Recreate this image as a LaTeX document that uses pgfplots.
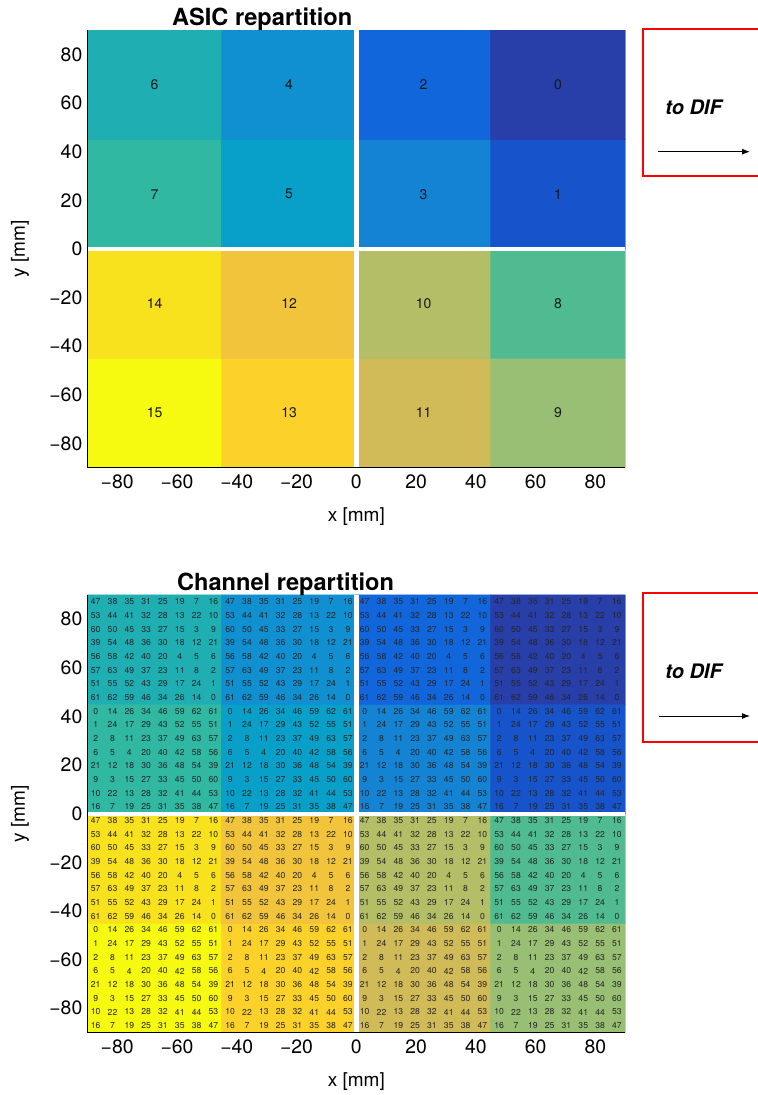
\documentclass[border=0pt]{standalone}
\usepackage{pgfplots}
\pgfplotsset{compat=1.18}
\usepackage{pgfplotstable}
\usepackage{fontspec}
\setmainfont{TeX Gyre Heros}
\usetikzlibrary{arrows.meta}

% channel layout of one ASIC (c = column from left, r = row from top)
\pgfplotstableread{
c r ch
0 0 47
1 0 38
2 0 35
3 0 31
4 0 25
5 0 19
6 0 7
7 0 16
0 1 53
1 1 44
2 1 41
3 1 32
4 1 28
5 1 13
6 1 22
7 1 10
0 2 60
1 2 50
2 2 45
3 2 33
4 2 27
5 2 15
6 2 3
7 2 9
0 3 39
1 3 54
2 3 48
3 3 36
4 3 30
5 3 18
6 3 12
7 3 21
0 4 56
1 4 58
2 4 42
3 4 40
4 4 20
5 4 4
6 4 5
7 4 6
0 5 57
1 5 63
2 5 49
3 5 37
4 5 23
5 5 11
6 5 8
7 5 2
0 6 51
1 6 55
2 6 52
3 6 43
4 6 29
5 6 17
6 6 24
7 6 1
0 7 61
1 7 62
2 7 59
3 7 46
4 7 34
5 7 26
6 7 14
7 7 0
}\chmap

\pgfplotsset{
  asicax/.style={
    scale only axis, width=269pt, height=218.8pt,
    xmin=-90, xmax=90, ymin=-90, ymax=90,
    axis x line*=bottom, axis y line*=left, axis on top,
    axis line style={line width=0.5pt, black},
    major tick length=0pt,
    xtick={-80,-60,-40,-20,0,20,40,60,80},
    ytick={-80,-60,-40,-20,0,20,40,60,80},
    xticklabels={−80,−60,−40,−20,0,20,40,60,80},
    yticklabels={−80,−60,−40,−20,0,20,40,60,80},
    tick label style={font=\fontsize{9.7}{11}\selectfont},
    xticklabel style={inner sep=0pt, yshift=-3.3pt},
    yticklabel style={inner sep=0pt, xshift=-2.3pt},
    xlabel={x [mm]}, ylabel={y [mm]},
    label style={font=\fontsize{9.5}{11}\selectfont},
    xlabel style={at={(axis description cs:0.5,0)}, anchor=center, yshift=-24.5pt},
    ylabel style={at={(axis description cs:-0.1251,0.5)}, anchor=center},
    colormap={asic}{rgb255=(40,62,168) rgb255=(23,83,203) rgb255=(17,102,219) rgb255=(20,131,212)
      rgb255=(16,144,208) rgb255=(8,160,200) rgb255=(31,175,179) rgb255=(48,184,162)
      rgb255=(80,187,144) rgb255=(152,191,115) rgb255=(179,190,102) rgb255=(209,186,88)
      rgb255=(242,196,60) rgb255=(252,210,42) rgb255=(248,226,30) rgb255=(246,249,16)},
  },
  asicfill/.style={matrix plot*, mesh/cols=4, point meta=explicit, point meta min=0, point meta max=15, forget plot},
  chlab/.style={draw=none, mark=none, forget plot, nodes near coords, point meta=explicit symbolic,
    nodes near coords align=center,
    nodes near coords style={font=\fontsize{4.3}{5}\selectfont, text=black!85, inner sep=0pt}},
}

\begin{document}
\begin{tikzpicture}
\useasboundingbox (0pt,0pt) rectangle (378.5pt,-547.5pt);

% ---------------- ASIC repartition ----------------
\begin{axis}[asicax, at={(43.65pt,-233.85pt)}, anchor=south west]
\addplot[asicfill] coordinates {
(-67.5,-67.5) [15] (-22.5,-67.5) [13] (22.5,-67.5) [11] (67.5,-67.5) [9]
(-67.5,-22.5) [14] (-22.5,-22.5) [12] (22.5,-22.5) [10] (67.5,-22.5) [8]
(-67.5,22.5) [7] (-22.5,22.5) [5] (22.5,22.5) [3] (67.5,22.5) [1]
(-67.5,67.5) [6] (-22.5,67.5) [4] (22.5,67.5) [2] (67.5,67.5) [0]
};
\addplot[white, line width=2.5pt, forget plot] coordinates {(0,-90) (0,90)};
\addplot[white, line width=2pt, forget plot] coordinates {(-90,0) (90,0)};
\addplot[draw=none, mark=none, forget plot, nodes near coords, point meta=explicit symbolic,
  nodes near coords align=center,
  nodes near coords style={font=\fontsize{7}{8}\selectfont, text=black!90}] coordinates {
(-67.5,-67.5) [15] (-22.5,-67.5) [13] (22.5,-67.5) [11] (67.5,-67.5) [9]
(-67.5,-22.5) [14] (-22.5,-22.5) [12] (22.5,-22.5) [10] (67.5,-22.5) [8]
(-67.5,22.5) [7] (-22.5,22.5) [5] (22.5,22.5) [3] (67.5,22.5) [1]
(-67.5,67.5) [6] (-22.5,67.5) [4] (22.5,67.5) [2] (67.5,67.5) [0]
};
\end{axis}

% ---------------- Channel repartition ----------------
\begin{axis}[asicax, at={(43.65pt,-516.25pt)}, anchor=south west]
\addplot[asicfill] coordinates {
(-67.5,-67.5) [15] (-22.5,-67.5) [13] (22.5,-67.5) [11] (67.5,-67.5) [9]
(-67.5,-22.5) [14] (-22.5,-22.5) [12] (22.5,-22.5) [10] (67.5,-22.5) [8]
(-67.5,22.5) [7] (-22.5,22.5) [5] (22.5,22.5) [3] (67.5,22.5) [1]
(-67.5,67.5) [6] (-22.5,67.5) [4] (22.5,67.5) [2] (67.5,67.5) [0]
};
\addplot[white, line width=2.2pt, forget plot] coordinates {(0,-90) (0,90)};
\addplot[white, line width=1.8pt, forget plot] coordinates {(-90,0) (90,0)};
\pgfplotsinvokeforeach{0,1,2,3}{
  \addplot[chlab] table[x expr={-87.1875+45*#1+5.625*\thisrow{c}}, y expr={87.1875-5.625*\thisrow{r}}, meta=ch]{\chmap};
  \addplot[chlab] table[x expr={-87.1875+45*#1+5.625*(7-\thisrow{c})}, y expr={42.1875-5.625*(7-\thisrow{r})}, meta=ch]{\chmap};
  \addplot[chlab] table[x expr={-87.1875+45*#1+5.625*\thisrow{c}}, y expr={-2.8125-5.625*\thisrow{r}}, meta=ch]{\chmap};
  \addplot[chlab] table[x expr={-87.1875+45*#1+5.625*(7-\thisrow{c})}, y expr={-47.8125-5.625*(7-\thisrow{r})}, meta=ch]{\chmap};
}
\end{axis}

% titles
\node[anchor=base west, inner sep=0pt, font=\bfseries\fontsize{11.8}{14}\selectfont] at (85.85pt,-13pt) {ASIC repartition};
\node[anchor=base west, inner sep=0pt, font=\bfseries\fontsize{11.8}{14}\selectfont] at (88.35pt,-295pt) {Channel repartition};

% "to DIF" annotation boxes
\draw[red, line width=1pt] (321.35pt,-14.5pt) rectangle (392pt,-87.85pt);
\node[anchor=base west, inner sep=0pt, font=\bfseries\itshape\fontsize{10}{12}\selectfont] at (332.5pt,-57.15pt) {to DIF};
\draw[-{Latex[length=4pt,width=3pt]}, line width=0.5pt] (329pt,-75.85pt) -- (375pt,-75.85pt);

\draw[red, line width=1pt] (321.65pt,-296.65pt) rectangle (392pt,-370.85pt);
\node[anchor=base west, inner sep=0pt, font=\bfseries\itshape\fontsize{10}{12}\selectfont] at (332.5pt,-339.15pt) {to DIF};
\draw[-{Latex[length=4pt,width=3pt]}, line width=0.5pt] (329.5pt,-358pt) -- (375pt,-358pt);
\end{tikzpicture}
\end{document}
